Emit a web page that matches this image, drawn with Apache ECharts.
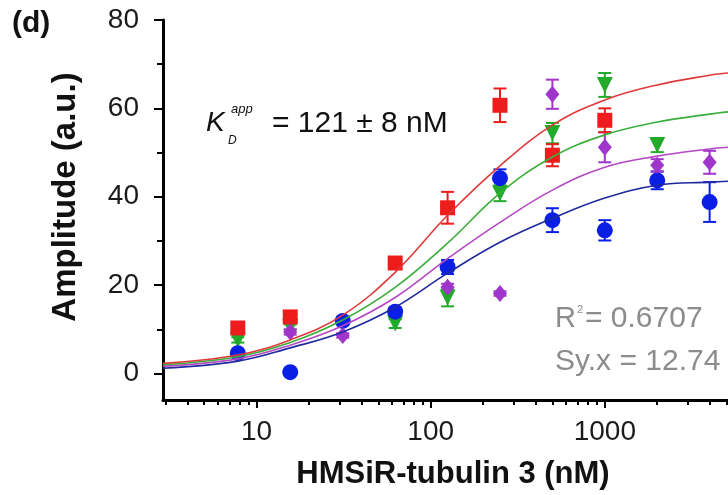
<!DOCTYPE html>
<html>
<head>
<meta charset="utf-8">
<script src="https://cdn.jsdelivr.net/npm/echarts@6/dist/echarts.min.js"></script>
<style>
    html, body { margin: 0; padding: 0; background: #fff; }
    #chart { width: 728px; height: 495px; }
</style>
</head>
<body>
<div id="chart"></div>
<script>
// concentrations of the titration (nM)
const concentrations = [7.8, 15.6, 31.25, 62.5, 125, 250, 500, 1000, 2000, 4000];

// measured amplitudes (a.u.) and their error bars, one pair per trace
const redAmp    = [10.3, 12.8, null, 25.0, 37.5, 60.7, 49.4, 57.3, null, null];
const redErr    = [0.8, 0.8, null, 1.2, 3.6, 3.8, 2.5, 2.7, null, null];
const greenAmp  = [7.6, 10.5, null, 11.3, 17.2, 40.8, 54.4, 65.3, 51.7, null];
const greenErr  = [0.6, 0.6, null, 1.0, 2.0, 1.8, 2.3, 2.7, 1.6, null];
const purpleAmp = [null, 9.4, 8.6, null, 19.5, 18.1, 63.2, 51.2, 47.1, 47.8];
const purpleErr = [null, 0.6, 0.5, null, 0.8, 0.5, 3.3, 3.4, 1.4, 2.6];
const blueAmp   = [4.6, 0.3, 11.9, 14.0, 24.1, 44.2, 34.7, 32.4, 43.7, 38.8];
const blueErr   = [0.5, 0.5, 0.8, 1.0, 1.6, 2.0, 2.7, 2.3, 2.0, 4.5];

// fitted curves
const fitConc   = [2.9, 7.8, 15.6, 31.25, 62.5, 125, 250, 500, 1000, 2000, 4000, 5100];
const redFit    = [2.3, 4.2, 7.6, 13.2, 22.9, 35.8, 47.0, 56.2, 61.9, 65.3, 67.5, 68.0];
const greenFit  = [2.0, 3.8, 7.0, 12.1, 19.5, 29.5, 40.8, 49.0, 54.0, 56.9, 58.7, 59.2];
const purpleFit = [1.6, 3.3, 6.4, 10.8, 17.2, 26.0, 34.2, 41.5, 46.7, 49.2, 50.8, 51.2];
const blueFit   = [1.2, 2.8, 5.8, 9.4, 15.0, 22.7, 29.7, 35.1, 39.7, 42.6, 43.3, 43.5];

// axis ticks
const xMajorTicks = [10, 100, 1000];
const xMinorTicks = [3, 4, 5, 6, 7, 8, 9, 20, 30, 40, 50, 60, 70, 80, 90,
                     200, 300, 400, 500, 600, 700, 800, 900, 2000, 3000, 4000, 5000];
const yMajorTicks = [0, 20, 40, 60, 80];
const yMinorTicks = [10, 30, 50, 70];

const FONT = '"Liberation Sans", Arial, sans-serif';

const chart = echarts.init(document.getElementById('chart'));

function pairs(xs, ys) {
    const out = [];
    xs.forEach((x, i) => { if (ys[i] != null) out.push([x, ys[i]]); });
    return out;
}

function errData(vals, errs) {
    const out = [];
    concentrations.forEach((x, i) => {
        if (vals[i] != null && errs[i] != null) out.push([x, vals[i] - errs[i], vals[i] + errs[i]]);
    });
    return out;
}

// 误差棒: 竖线加上下两个横帽
function errorBarSeries(vals, errs, color) {
    return {
        type: 'custom',
        data: errData(vals, errs),
        encode: { x: 0, y: [1, 2] },
        renderItem: function (params, api) {
            const lo = api.coord([api.value(0), api.value(1)]);
            const hi = api.coord([api.value(0), api.value(2)]);
            const hw = 6.5;
            const st = { stroke: color, lineWidth: 2 };
            return {
                type: 'group',
                children: [
                    { type: 'line', shape: { x1: lo[0], y1: lo[1], x2: hi[0], y2: hi[1] }, style: st },
                    { type: 'line', shape: { x1: lo[0] - hw, y1: lo[1], x2: lo[0] + hw, y2: lo[1] }, style: st },
                    { type: 'line', shape: { x1: hi[0] - hw, y1: hi[1], x2: hi[0] + hw, y2: hi[1] }, style: st }
                ]
            };
        },
        silent: true
    };
}

function fitSeries(vals, color) {
    return {
        type: 'line',
        data: pairs(fitConc, vals),
        smooth: 0.4,
        showSymbol: false,
        lineStyle: { color: color, width: 1.6 },
        silent: true
    };
}

function pointSeries(vals, color, symbol, size, rotate) {
    return {
        type: 'scatter',
        data: pairs(concentrations, vals),
        symbol: symbol,
        symbolSize: size,
        symbolRotate: rotate || 0,
        itemStyle: { color: color, opacity: 1 },
        silent: true
    };
}

const RED = '#ee1c1c', GREEN = '#22aa2a', PURPLE = '#a035cc', BLUE = '#0a1ee6';

const option = {
    animation: false,
    grid: { left: 163, right: 0, top: 20, bottom: 95 },
    xAxis: [{
        type: 'log',
        min: 2.9,
        max: 5100,
        axisLine: { onZero: false, lineStyle: { color: '#000', width: 3 } },
        axisTick: { customValues: xMajorTicks, length: 8, lineStyle: { color: '#000', width: 2 } },
        axisLabel: {
            customValues: xMajorTicks,
            formatter: v => String(Math.round(v)),
            fontSize: 28, color: '#1a1a1a', fontFamily: FONT, margin: 18
        },
        splitLine: { show: false },
        minorTick: { show: false }
    }, {
        type: 'log',
        min: 2.9,
        max: 5100,
        position: 'bottom',
        axisLine: { show: false, onZero: false },
        axisTick: { customValues: xMinorTicks, length: 5, lineStyle: { color: '#000', width: 2 } },
        axisLabel: { show: false },
        splitLine: { show: false }
    }],
    yAxis: [{
        type: 'value',
        min: -6,
        max: 80,
        axisLine: { show: true, onZero: false, lineStyle: { color: '#000', width: 3 } },
        axisTick: { show: true, customValues: yMajorTicks, length: 9, lineStyle: { color: '#000', width: 2 } },
        axisLabel: { customValues: yMajorTicks, fontSize: 28, color: '#1a1a1a', fontFamily: FONT, margin: 24 },
        splitLine: { show: false }
    }, {
        type: 'value',
        min: -6,
        max: 80,
        position: 'left',
        axisLine: { show: false, onZero: false },
        axisTick: { show: true, customValues: yMinorTicks, length: 6, lineStyle: { color: '#000', width: 2 } },
        axisLabel: { show: false },
        splitLine: { show: false }
    }],
    series: [
        fitSeries(blueFit, '#1e2a9e'),
        fitSeries(purpleFit, '#b548c4'),
        fitSeries(greenFit, '#3aae3a'),
        fitSeries(redFit, '#e0393a'),
        errorBarSeries(greenAmp, greenErr, GREEN),
        pointSeries(greenAmp, GREEN, 'triangle', 16, 180),
        errorBarSeries(blueAmp, blueErr, BLUE),
        pointSeries(blueAmp, BLUE, 'circle', 16),
        errorBarSeries(purpleAmp, purpleErr, PURPLE),
        pointSeries(purpleAmp, PURPLE, 'diamond', [14, 17]),
        errorBarSeries(redAmp, redErr, RED),
        pointSeries(redAmp, RED, 'rect', 15)
    ],
    graphic: [
        { type: 'text', left: 12, top: 9, style: { text: '(d)', font: 'bold 30px ' + FONT, fill: '#111' } },
        {
            type: 'text', x: 66, y: 197, rotation: Math.PI / 2,
            style: { text: 'Amplitude (a.u.)', font: 'bold 33px ' + FONT, fill: '#111', align: 'center', verticalAlign: 'middle' }
        },
        {
            type: 'text', x: 453, y: 474,
            style: { text: 'HMSiR-tubulin 3 (nM)', font: 'bold 31px ' + FONT, fill: '#111', align: 'center', verticalAlign: 'middle' }
        },
        { type: 'text', x: 206, y: 123, style: { text: 'K', font: 'italic 28px ' + FONT, fill: '#111', verticalAlign: 'middle' } },
        { type: 'text', x: 228, y: 141, style: { text: 'D', font: 'italic 12px ' + FONT, fill: '#111', verticalAlign: 'middle' } },
        { type: 'text', x: 231, y: 109, style: { text: 'app', font: 'italic 13px ' + FONT, fill: '#111', verticalAlign: 'middle' } },
        { type: 'text', x: 272, y: 124, style: { text: '= 121 \u00b1 8 nM', font: '30px ' + FONT, fill: '#111', verticalAlign: 'middle' } },
        { type: 'text', x: 555, y: 319, style: { text: 'R', font: '29px ' + FONT, fill: '#8c8c8c', verticalAlign: 'middle' } },
        { type: 'text', x: 577, y: 310, style: { text: '2', font: '11px ' + FONT, fill: '#8c8c8c', verticalAlign: 'middle' } },
        { type: 'text', x: 585, y: 319, style: { text: '= 0.6707', font: '30px ' + FONT, fill: '#8c8c8c', verticalAlign: 'middle' } },
        { type: 'text', x: 555, y: 362, style: { text: 'Sy.x = 12.74', font: '30px ' + FONT, fill: '#8c8c8c', verticalAlign: 'middle' } }
    ]
};

chart.setOption(option);
</script>
</body>
</html>
